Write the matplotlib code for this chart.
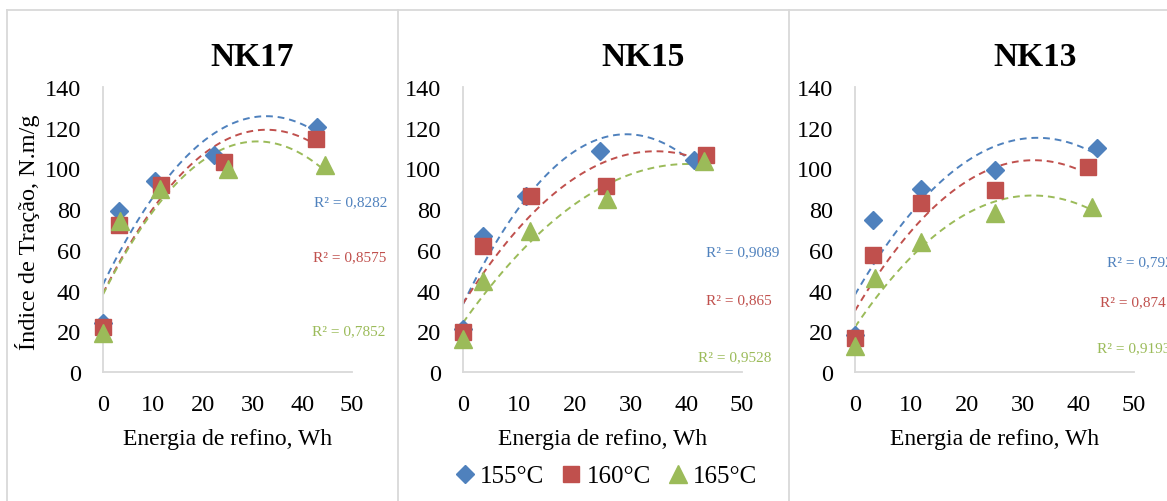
import numpy as np
import matplotlib
matplotlib.use("Agg")
import matplotlib.pyplot as plt
from matplotlib.lines import Line2D

plt.rcParams['font.family'] = ['Liberation Serif', 'DejaVu Serif']

# Índice de tração (N.m/g) x energia de refino (Wh)
temperaturas = ['155°C', '160°C', '165°C']
cores = ['#4F81BD', '#C0504D', '#9BBB59']
marcadores = ['D', 's', '^']

nk17_x = [[0, 3.2, 10.5, 22.3, 42.9],
          [0, 3.3, 11.7, 24.2, 42.7],
          [0, 3.4, 11.5, 25.2, 44.6]]
nk17_y = [[24, 79, 94, 106.6, 120.2],
          [22, 72, 91.8, 103.3, 114.4],
          [19, 74.3, 90, 99.7, 101.7]]
nk17_r2 = ['R² = 0,8282', 'R² = 0,8575', 'R² = 0,7852']

nk15_x = [[0, 3.5, 11.3, 24.5, 41.4],
          [0, 3.6, 12.2, 25.7, 43.6],
          [0, 3.6, 12.0, 25.8, 43.2]]
nk15_y = [[21, 67, 86.6, 108.7, 104.3],
          [19.5, 61.7, 86.6, 91.5, 106.6],
          [16.2, 44.8, 69.4, 85, 103.8]]
nk15_r2 = ['R² = 0,9089', 'R² = 0,865', 'R² = 0,9528']

nk13_x = [[0, 3.3, 11.8, 25.0, 43.4],
          [0, 3.3, 11.8, 25.0, 41.7],
          [0, 3.6, 11.8, 25.0, 42.5]]
nk13_y = [[18, 74.7, 89.9, 99.4, 109.9],
          [16.5, 57.6, 82.8, 89.5, 100.5],
          [13, 46, 64, 78, 81.2]]
nk13_r2 = ['R² = 0,7923', 'R² = 0,8741', 'R² = 0,9193']

paineis = [
    ('NK17', nk17_x, nk17_y, nk17_r2),
    ('NK15', nk15_x, nk15_y, nk15_r2),
    ('NK13', nk13_x, nk13_y, nk13_r2),
]

# posição dos rótulos de R² (dados) e alinhamento
pos_r2 = [
    ([(49.8, 83.5), (49.6, 56.5), (49.3, 20.1)], 'center'),
    ([(50.1, 59), (49.5, 35.4), (48.7, 7.4)], 'center'),
    ([(45.2, 54.2), (43.9, 34.5), (43.4, 12.1)], 'left'),
]

W, H = 1167, 502
fig = plt.figure(figsize=(W / 100, H / 100), dpi=100)

# caixas em volta dos gráficos
borda = '#d9d9d9'
for xs, ys in [([7, W], [11, 11]), ([7, 7], [11, H]),
               ([398, 398], [11, H]), ([789, 789], [11, H])]:
    fig.add_artist(Line2D([x / W for x in xs], [1 - y / H for y in ys],
                          color=borda, lw=1.3))

# eixos em pixels: esquerda, largura
eixos_px = [(103, 249), (463, 279), (855, 279)]
titulo_x = [252, 643, 1035]
y0, y1 = 373, 88
tam_marc = [9, 11.5, 12.5]

for i, (nome, xs, ys, r2s) in enumerate(paineis):
    esq, larg = eixos_px[i]
    ax = fig.add_axes([esq / W, (H - y0) / H, larg / W, (y0 - y1) / H])
    for k in range(3):
        x = np.array(xs[k])
        y = np.array(ys[k])
        coef = np.polyfit(x, y, 2)
        xt = np.linspace(0, x.max(), 100)
        ax.plot(xt, np.polyval(coef, xt), '--', color=cores[k], lw=1.4,
                dashes=(3.5, 2.5), zorder=2)
        ax.plot(x, y, linestyle='none', marker=marcadores[k],
                color=cores[k], markersize=tam_marc[k], zorder=3,
                clip_on=False)
        (tx, ty), alin = pos_r2[i][0][k], pos_r2[i][1]
        ax.text(tx, ty, r2s[k], color=cores[k], fontsize=11,
                ha=alin, va='center', clip_on=False)

    ax.set_xlim(0, 50)
    ax.set_ylim(0, 140)
    ax.set_xticks(range(0, 51, 10))
    ax.set_yticks(range(0, 141, 20))
    ax.tick_params(length=0, labelsize=17.5, pad=16)
    ax.tick_params(axis='y', pad=16)
    for lado in ['top', 'right']:
        ax.spines[lado].set_visible(False)
    for lado in ['left', 'bottom']:
        ax.spines[lado].set_color(borda)
        ax.spines[lado].set_linewidth(1.3)

    fig.text((esq + larg / 2) / W, 1 - 440 / H, 'Energia de refino, Wh',
             ha='center', va='center', fontsize=17)
    fig.text(titulo_x[i] / W, 1 - 58 / H, nome, ha='center', va='center',
             fontsize=24, fontweight='bold')

fig.text(28 / W, 1 - 232 / H, 'Índice de Tração, N.m/g', rotation=90,
         ha='center', va='center', fontsize=17.5)

alcas = [Line2D([], [], linestyle='none', marker=marcadores[k], color=cores[k],
                markersize=tam_marc[k]) for k in range(3)]
fig.legend(alcas, temperaturas, loc='center', bbox_to_anchor=(606 / W, 1 - 477 / H),
           ncol=3, frameon=False, fontsize=18, handlelength=0.8,
           handletextpad=0.2, columnspacing=0.7)

fig.savefig('out.png', dpi=100)
